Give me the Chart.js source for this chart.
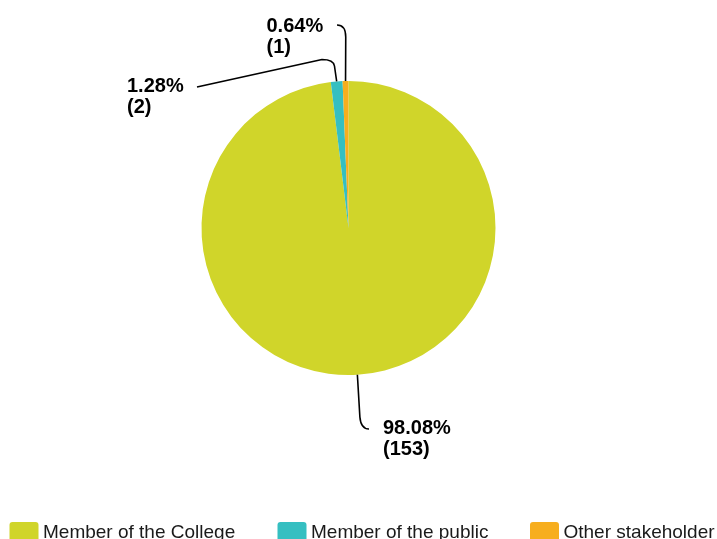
<!DOCTYPE html>
<html>
<head>
<meta charset="utf-8">
<script src="https://cdn.jsdelivr.net/npm/chart.js@4"></script>
<style>
  html, body { margin: 0; padding: 0; background: #ffffff; overflow: hidden; }
  #wrap { width: 717px; height: 539px; }
</style>
</head>
<body>
<div id="wrap"><canvas id="c" width="717" height="539"></canvas></div>
<script>
// ---- data ----
const categories = ['Member of the College', 'Member of the public', 'Other stakeholder'];
const counts = [153, 2, 1];
const colors = ['#D0D52A', '#35BFC1', '#F7AE1E'];

const total = counts.reduce((a, b) => a + b, 0);

// ---- label layout (positions only, relative to each slice's outer anchor) ----
const labelLayout = [
  { path: (a) => [['L', a.x + 2.5, 417], ['Q', a.x + 3.5, 429, 369, 429]], textX: 383, textY: 433.5 },
  { path: (a) => [['L', a.x - 2.2, 66], ['Q', a.x - 3.2, 59.5, 322, 59.5], ['L', 197, 87]], textX: 127, textY: 91.5 },
  { path: (a) => [['L', a.x + 0.2, 37], ['Q', a.x + 0.2, 25, 337, 25]], textX: 266.5, textY: 31.5 }
];

const labelFont = 'bold 20px "Liberation Sans", Arial, sans-serif';
const lineGap = 21.5;

const leaderPlugin = {
  id: 'leaders',
  afterDatasetsDraw(chart) {
    const ctx = chart.ctx;
    const meta = chart.getDatasetMeta(0);
    meta.data.forEach((arc, i) => {
      const p = arc.getProps(['x', 'y', 'startAngle', 'endAngle', 'outerRadius'], true);
      const mid = (p.startAngle + p.endAngle) / 2;
      const a = { x: p.x + Math.cos(mid) * p.outerRadius, y: p.y + Math.sin(mid) * p.outerRadius };
      const lay = labelLayout[i];
      ctx.save();
      ctx.strokeStyle = '#000000';
      ctx.lineWidth = 1.6;
      ctx.lineJoin = 'round';
      ctx.beginPath();
      ctx.moveTo(a.x, a.y);
      lay.path(a).forEach(seg => {
        if (seg[0] === 'L') ctx.lineTo(seg[1], seg[2]);
        else ctx.quadraticCurveTo(seg[1], seg[2], seg[3], seg[4]);
      });
      ctx.stroke();
      const pct = (counts[i] / total * 100).toFixed(2) + '%';
      ctx.fillStyle = '#000000';
      ctx.font = labelFont;
      ctx.textAlign = 'left';
      ctx.textBaseline = 'alphabetic';
      ctx.fillText(pct, lay.textX, lay.textY);
      ctx.fillText('(' + counts[i] + ')', lay.textX, lay.textY + lineGap);
      ctx.restore();
    });
  }
};

// custom legend drawn at the bottom
const legendX = [9.5, 277.5, 530];
const legendPlugin = {
  id: 'customLegend',
  afterDraw(chart) {
    const ctx = chart.ctx;
    ctx.save();
    categories.forEach((name, i) => {
      const x = legendX[i];
      ctx.fillStyle = colors[i];
      ctx.beginPath();
      if (ctx.roundRect) ctx.roundRect(x, 522, 29, 22, 3);
      else ctx.rect(x, 522, 29, 22);
      ctx.fill();
      ctx.fillStyle = '#1a1a1a';
      ctx.font = '19px "Liberation Sans", Arial, sans-serif';
      ctx.textAlign = 'left';
      ctx.textBaseline = 'alphabetic';
      ctx.fillText(name, x + 33.5, 537.5);
    });
    ctx.restore();
  }
};

new Chart(document.getElementById('c'), {
  type: 'pie',
  data: {
    labels: categories,
    datasets: [{
      data: counts,
      backgroundColor: colors,
      borderColor: '#ffffff',
      borderWidth: 0
    }]
  },
  options: {
    responsive: false,
    animation: false,
    devicePixelRatio: 1,
    layout: { padding: { left: 201, right: 221, top: 81, bottom: 164 } },
    plugins: {
      legend: { display: false },
      tooltip: { enabled: false }
    }
  },
  plugins: [leaderPlugin, legendPlugin]
});
</script>
</body>
</html>
